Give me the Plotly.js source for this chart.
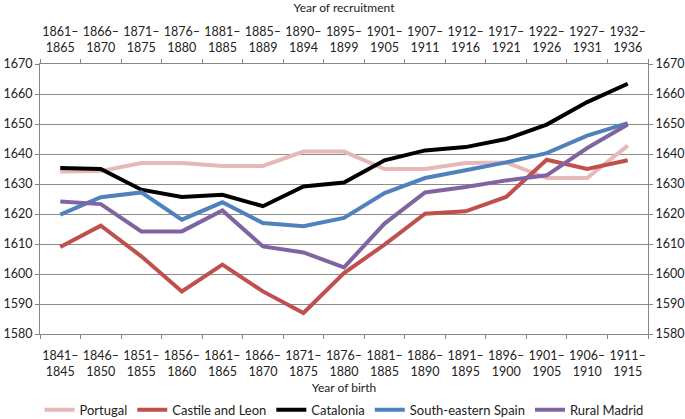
<!DOCTYPE html>
<html><head><meta charset="utf-8">
<script src="https://cdn.plot.ly/plotly-3.0.1.min.js"></script>
<style>body{margin:0;background:#fff}#chart{width:685px;height:419px}</style>
</head><body><div id="chart"></div>
<script>
const birthYears = ["1841–<br>1845","1846–<br>1850","1851–<br>1855","1856–<br>1860","1861–<br>1865","1866–<br>1870","1871–<br>1875","1876–<br>1880","1881–<br>1885","1886–<br>1890","1891–<br>1895","1896–<br>1900","1901–<br>1905","1906–<br>1910","1911–<br>1915"];
const recruitYears = ["1861–<br>1865","1866–<br>1870","1871–<br>1875","1876–<br>1880","1881–<br>1885","1885–<br>1889","1890–<br>1894","1895–<br>1899","1901–<br>1905","1907–<br>1911","1912–<br>1916","1917–<br>1921","1922–<br>1926","1927–<br>1931","1932–<br>1936"];
const portugal = [1634.2,1634.3,1637,1637,1636,1636,1640.8,1640.8,1635,1635,1637,1637.2,1632,1632,1642.8];
const castileLeon = [1609,1616.1,1605.9,1594.2,1603.1,1594.2,1587,1600.3,1609.8,1620.1,1620.9,1625.7,1638.1,1635,1637.9];
const catalonia = [1635.3,1635,1628.1,1625.7,1626.4,1622.6,1629.2,1630.5,1637.9,1641.2,1642.3,1645,1649.8,1657.3,1663.4];
const seSpain = [1619.8,1625.6,1627.2,1618.1,1623.9,1617,1615.9,1618.7,1627,1632,1634.6,1637.2,1640.3,1646.1,1650.3];
const ruralMadrid = [1624.2,1623.3,1614.2,1614.2,1621.2,1609.2,1607.2,1602.2,1616.8,1627.2,1629,1631.2,1632.9,1642,1649.8];

const seriesNames = ["Portugal","Castile and Leon","Catalonia","South-eastern Spain","Rural Madrid"];
const seriesData = [portugal, castileLeon, catalonia, seSpain, ruralMadrid];
const colors = ["#e6b9b8","#c0504d","#000000","#4f81bd","#8064a2"];

const traces = seriesData.map((d,i)=>({
  x: birthYears, y: d, name: seriesNames[i], type:'scatter', mode:'lines',
  line:{color:colors[i], width:4}, xaxis:'x', yaxis:'y'
}));
traces.push({x: recruitYears, y: recruitYears.map(()=>null), xaxis:'x2', yaxis:'y2', type:'scatter', mode:'lines', showlegend:false, hoverinfo:'skip'});

const font = {family:'Lato, "Open Sans", sans-serif', size:12, color:'#222'};
const tickFont = {family:font.family, size:12.5, color:'#222'};
const axCommon = {type:'category', range:[-0.5,14.5], ticks:'outside', tickson:'boundaries', ticklen:4, tickcolor:'#868686', showline:true, linecolor:'#868686', linewidth:1, showgrid:false, tickfont:tickFont, tickangle:0, automargin:false, fixedrange:true};
const yCommon = {range:[1580,1670], dtick:10, ticks:'outside', ticklen:4, tickcolor:'#868686', showline:true, linecolor:'#868686', zeroline:false, tickfont:tickFont, automargin:false};

const layout = {
  width:685, height:419,
  margin:{l:40, r:37, t:64, b:85},
  paper_bgcolor:'#fff', plot_bgcolor:'#fff',
  font: font,
  xaxis: Object.assign({}, axCommon, {categoryarray:birthYears, categoryorder:'array', ticklabelstandoff:10, title:{text:'Year of birth', font:font, standoff:11}}),
  xaxis2: Object.assign({}, axCommon, {categoryarray:recruitYears, categoryorder:'array', overlaying:'x', side:'top', anchor:'y', ticklabelstandoff:6, title:{text:'Year of recruitment', font:font, standoff:9}}),
  yaxis: Object.assign({}, yCommon, {showgrid:true, gridcolor:'#8c8c8c', gridwidth:1}),
  yaxis2: Object.assign({}, yCommon, {overlaying:'y', side:'right', anchor:'x', showgrid:false}),
  showlegend:true,
  legend:{orientation:'h', x:0.5, xanchor:'center', yref:'container', y:0.022, yanchor:'middle', font:{family:font.family, size:13, color:'#222'}, itemwidth:30, tracegroupgap:0}
};
Plotly.newPlot('chart', traces, layout, {displayModeBar:false, staticPlot:true});
</script></body></html>
